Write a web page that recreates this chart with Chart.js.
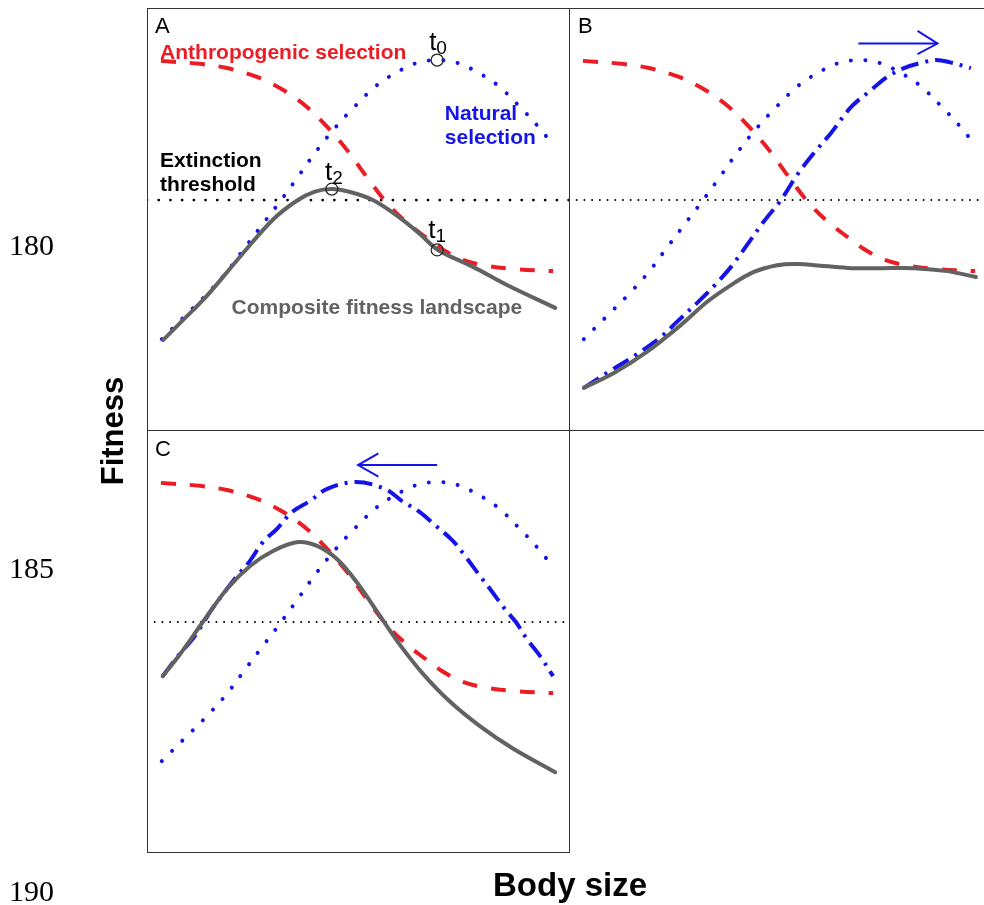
<!DOCTYPE html>
<html>
<head>
<meta charset="utf-8">
<title>Fitness landscapes</title>
<script src="https://cdn.jsdelivr.net/npm/chart.js@4.4.1/dist/chart.umd.min.js"></script>
<style>
    html, body { margin: 0; padding: 0; background: #ffffff; overflow: hidden; }
    #figure { position: relative; width: 984px; height: 905px; overflow: hidden; }
    #figure canvas { position: absolute; }
</style>
</head>
<body>
<div id="figure">
    <canvas id="base" width="984" height="905" style="left:0px; top:0px;"></canvas>
    <canvas id="panelA" width="423" height="423" style="left:147px; top:8px;"></canvas>
    <canvas id="panelB" width="423" height="423" style="left:569px; top:8px;"></canvas>
    <canvas id="panelC" width="423" height="423" style="left:147px; top:430px;"></canvas>
</div>
<script>
// values; each panel is 10 x 10 units (body size, fitness)
const fitnessTicks = [180, 185, 190];

// anthropogenic selection (same curve in every panel)
const anthroX = [0.33, 1.25, 1.89, 2.60, 3.22, 3.78, 4.26, 4.73, 5.20, 5.67, 6.15, 6.62, 6.93, 7.40, 7.94, 8.65, 9.60];
const anthroY = [8.75, 8.68, 8.58, 8.37, 8.06, 7.66, 7.19, 6.64, 6.00, 5.39, 4.92, 4.56, 4.33, 4.07, 3.92, 3.83, 3.78];

// natural selection, original optimum (same curve in every panel)
const naturalX = [0.35, 0.85, 1.37, 1.87, 2.29, 2.72, 3.17, 3.55, 3.99, 4.44, 4.92, 5.44, 6.05, 6.45, 6.86, 7.27, 7.67, 8.28, 8.80, 9.28, 9.57];
const naturalY = [2.17, 2.67, 3.19, 3.74, 4.30, 4.87, 5.46, 5.98, 6.60, 7.16, 7.68, 8.18, 8.56, 8.72, 8.77, 8.72, 8.56, 8.18, 7.68, 7.16, 6.80];

// extinction threshold
const thresholdX = [0, 10];
const thresholdY = [5.46, 5.46];

// panel A: composite landscape and the t0, t1, t2 points
const compAX = [0.38, 0.85, 1.42, 2.20, 2.98, 3.55, 3.97, 4.37, 4.80, 5.34, 5.98, 6.45, 6.88, 7.71, 8.51, 9.65];
const compAY = [2.15, 2.62, 3.20, 4.12, 5.00, 5.45, 5.66, 5.72, 5.65, 5.46, 5.04, 4.66, 4.28, 3.88, 3.45, 2.91];
const markerX = [6.86, 6.86, 4.37];
const markerY = [8.77, 4.28, 5.72];

// panel B: natural optimum shifted to larger size
const shiftBX = [0.35, 0.97, 1.58, 2.17, 2.55, 3.03, 3.43, 3.83, 4.21, 4.61, 5.01, 5.39, 5.79, 6.19, 6.67, 7.14, 7.52, 7.92, 8.39, 8.69, 8.99, 9.50];
const shiftBY = [1.02, 1.42, 1.80, 2.22, 2.58, 3.03, 3.43, 3.88, 4.40, 4.96, 5.46, 6.05, 6.57, 7.04, 7.66, 8.06, 8.37, 8.58, 8.72, 8.77, 8.72, 8.58];
const compBX = [0.35, 1.06, 1.84, 2.65, 3.26, 3.83, 4.37, 4.92, 5.39, 6.03, 6.67, 7.38, 8.16, 8.94, 9.62];
const compBY = [1.02, 1.37, 1.87, 2.51, 3.05, 3.45, 3.76, 3.92, 3.95, 3.90, 3.85, 3.85, 3.85, 3.78, 3.64];
const arrowBX = [6.84, 8.71];
const arrowBY = [9.16, 9.16];
const headBX = [8.24, 8.71, 8.24];
const headBY = [9.46, 9.16, 8.91];

// panel C: natural optimum shifted to smaller size
const shiftCX = [0.37, 0.71, 1.13, 1.54, 2.13, 2.43, 2.74, 3.07, 3.43, 3.85, 4.26, 4.94, 5.62, 6.03, 6.45, 6.81, 7.23, 7.52, 7.87, 8.11, 8.46, 8.72, 8.98, 9.29, 9.60];
const shiftCY = [4.18, 4.63, 5.13, 5.77, 6.55, 6.90, 7.35, 7.66, 8.06, 8.32, 8.61, 8.77, 8.61, 8.32, 8.06, 7.75, 7.38, 7.02, 6.55, 6.24, 5.77, 5.46, 5.06, 4.66, 4.18];
const compCX = [0.37, 0.78, 1.32, 1.89, 2.43, 2.98, 3.57, 4.02, 4.49, 4.96, 5.51, 5.98, 6.52, 7.16, 7.87, 8.65, 9.65];
const compCY = [4.18, 4.70, 5.46, 6.24, 6.78, 7.14, 7.35, 7.26, 6.95, 6.40, 5.60, 4.92, 4.24, 3.58, 3.00, 2.47, 1.91];
const arrowCX = [6.86, 4.99];
const arrowCY = [9.17, 9.17];
const headCX = [5.47, 4.99, 5.47];
const headCY = [9.45, 9.17, 8.90];

const RED = 'rgb(236,28,36)';
const BLUE = 'rgb(20,20,232)';
const GREY = 'rgb(98,98,98)';
const SANS = '"Liberation Sans", Arial, sans-serif';
const BOLD = 'bold 21px ' + SANS;

const anthroStyle = { borderColor: RED, borderWidth: 4, borderDash: [15, 14], borderCapStyle: 'butt' };
const naturalStyle = { borderColor: BLUE, borderWidth: 4, borderDash: [0.01, 14.5], borderCapStyle: 'round' };
const shiftedStyle = { borderColor: BLUE, borderWidth: 4, borderDash: [18, 7, 3, 7], borderCapStyle: 'butt' };
const compositeStyle = { borderColor: GREY, borderWidth: 4, borderCapStyle: 'round' };
const arrowStyle = { borderColor: BLUE, borderWidth: 2, tension: 0 };
const boldThreshold = { borderColor: '#000', borderWidth: 2.8, borderDash: [0.01, 11.7], borderCapStyle: 'round', tension: 0 };
const fineThreshold = { borderColor: '#000', borderWidth: 2, borderDash: [0.01, 7.7], borderCapStyle: 'round', tension: 0 };

// texts inside the panels, positions in panel units
const panel_texts = {
    panelA: [
        { lines: ['A'], x: 0.19, y: 9.40, font: '22px ' + SANS, color: '#000' },
        { lines: ['Anthropogenic selection'], x: 0.31, y: 8.79, font: BOLD, color: RED },
        { lines: ['Natural', 'selection'], x: 7.04, y: 7.35, font: BOLD, color: BLUE },
        { lines: ['Extinction', 'threshold'], x: 0.31, y: 6.25, font: BOLD, color: '#000' },
        { lines: ['Composite fitness landscape'], x: 2.00, y: 2.76, font: BOLD, color: GREY },
        { lines: ['t'], sub: '0', x: 6.67, y: 9.01, font: '26px ' + SANS, color: '#000' },
        { lines: ['t'], sub: '1', x: 6.65, y: 4.56, font: '26px ' + SANS, color: '#000' },
        { lines: ['t'], sub: '2', x: 4.21, y: 5.93, font: '26px ' + SANS, color: '#000' }
    ],
    panelB: [
        { lines: ['B'], x: 0.21, y: 9.40, font: '22px ' + SANS, color: '#000' }
    ],
    panelC: [
        { lines: ['C'], x: 0.19, y: 9.39, font: '22px ' + SANS, color: '#000' }
    ]
};

function zip(xs, ys) {
    return xs.map((x, i) => ({ x: x, y: ys[i] }));
}

function series(xs, ys, style, order) {
    return Object.assign({
        data: zip(xs, ys),
        pointRadius: 0,
        fill: false,
        tension: 0.35,
        order: order
    }, style);
}

const panelFrame = {
    id: 'panelFrame',
    afterDraw(chart) {
        const a = chart.chartArea;
        const ctx = chart.ctx;
        ctx.save();
        ctx.strokeStyle = '#333';
        ctx.lineWidth = 1;
        ctx.strokeRect(a.left + 0.5, a.top + 0.5, a.right - a.left - 1, a.bottom - a.top - 1);
        ctx.restore();
    }
};

const panelText = {
    id: 'panelText',
    afterDatasetsDraw(chart) {
        const items = panel_texts[chart.canvas.id] || [];
        const ctx = chart.ctx;
        items.forEach(item => {
            let px = chart.scales.x.getPixelForValue(item.x);
            let py = chart.scales.y.getPixelForValue(item.y);
            ctx.save();
            ctx.font = item.font;
            ctx.fillStyle = item.color;
            ctx.textAlign = 'left';
            ctx.textBaseline = 'alphabetic';
            item.lines.forEach((line, i) => ctx.fillText(line, px, py + i * 24.4));
            if (item.sub) {
                let w = ctx.measureText(item.lines[0]).width;
                ctx.font = '19px ' + SANS;
                ctx.fillText(item.sub, px + w, py + 4);
            }
            ctx.restore();
        });
    }
};

const axisTitles = {
    id: 'axisTitles',
    afterDraw(chart) {
        const ctx = chart.ctx;
        ctx.save();
        ctx.fillStyle = '#000';
        ctx.textAlign = 'center';
        ctx.textBaseline = 'alphabetic';
        ctx.font = 'bold 33px ' + SANS;
        ctx.fillText('Body size', 570, 896);
        ctx.translate(123, 431);
        ctx.rotate(-Math.PI / 2);
        ctx.font = 'bold 31px ' + SANS;
        ctx.fillText('Fitness', 0, 0);
        ctx.restore();
    }
};

function createPanel(id, datasets) {
    return new Chart(document.getElementById(id), {
        type: 'line',
        data: { datasets: datasets },
        options: {
            responsive: false,
            animation: false,
            events: [],
            layout: { padding: 0, autoPadding: false },
            plugins: { legend: { display: false }, tooltip: { enabled: false } },
            scales: {
                x: { type: 'linear', min: 0, max: 10, display: false },
                y: { type: 'linear', min: 0, max: 10, display: false }
            }
        },
        plugins: [panelFrame, panelText]
    });
}

// outer frame: only the y ticks and the two axis titles
new Chart(document.getElementById('base'), {
    type: 'line',
    data: { datasets: [] },
    options: {
        responsive: false,
        animation: false,
        events: [],
        layout: { padding: { left: 9, top: 247, bottom: 12, right: 0 } },
        plugins: { legend: { display: false }, tooltip: { enabled: false } },
        scales: {
            x: { type: 'linear', min: 0, max: 1, display: false },
            y: {
                reverse: true,
                min: 180,
                max: 190,
                afterBuildTicks: axis => { axis.ticks = fitnessTicks.map(v => ({ value: v })); },
                grid: { display: false, drawTicks: false },
                border: { display: false },
                ticks: {
                    color: '#000',
                    padding: 0,
                    font: { family: '"Liberation Serif", "Times New Roman", serif', size: 30, lineHeight: 0.8 }
                }
            }
        }
    },
    plugins: [axisTitles]
});

createPanel('panelA', [
    {
        data: zip(markerX, markerY), showLine: false, pointRadius: 6, pointBorderWidth: 1.2,
        pointBorderColor: '#222', pointBackgroundColor: 'rgba(0,0,0,0)', order: 0
    },
    series(compAX, compAY, compositeStyle, 1),
    series(naturalX, naturalY, naturalStyle, 2),
    series(anthroX, anthroY, anthroStyle, 3),
    series(thresholdX, thresholdY, boldThreshold, 4)
]);

createPanel('panelB', [
    series(compBX, compBY, compositeStyle, 1),
    series(shiftBX, shiftBY, shiftedStyle, 2),
    series(naturalX, naturalY, naturalStyle, 3),
    series(anthroX, anthroY, anthroStyle, 4),
    series(thresholdX, thresholdY, fineThreshold, 5),
    series(arrowBX, arrowBY, arrowStyle, 0),
    series(headBX, headBY, arrowStyle, 0)
]);

createPanel('panelC', [
    series(compCX, compCY, compositeStyle, 1),
    series(shiftCX, shiftCY, shiftedStyle, 2),
    series(naturalX, naturalY, naturalStyle, 3),
    series(anthroX, anthroY, anthroStyle, 4),
    series(thresholdX, thresholdY, fineThreshold, 5),
    series(arrowCX, arrowCY, arrowStyle, 0),
    series(headCX, headCY, arrowStyle, 0)
]);
</script>
</body>
</html>
